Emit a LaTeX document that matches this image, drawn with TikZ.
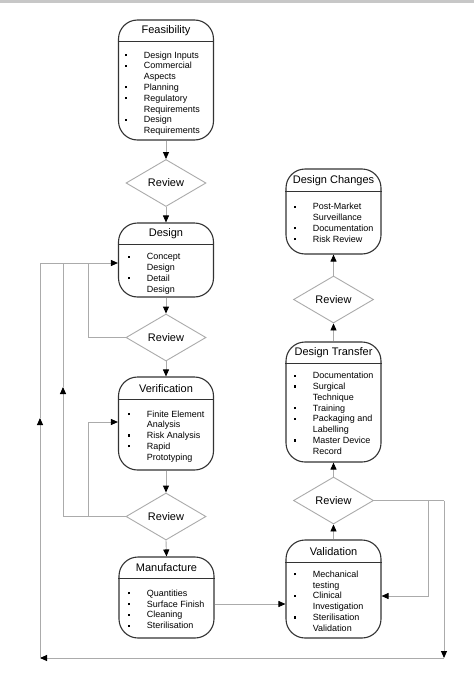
\documentclass[tikz,border=0pt]{standalone}
\usepackage{fontspec}
\setmainfont{Liberation Sans}
\usetikzlibrary{shapes.geometric,arrows.meta,calc}
\definecolor{boxc}{HTML}{333333}
\definecolor{linec}{HTML}{ABABAB}
\newcommand\bu{\makebox[18.7pt][l]{\rule[2pt]{2.2pt}{2.2pt}}}
\newcommand\nb{\makebox[18.7pt]{}}
\newcommand\blist[1]{{\fontsize{9}{10.8}\selectfont\begin{tabular}[t]{@{}l@{}}#1\end{tabular}}}
\begin{document}
\begin{tikzpicture}[x=1pt,y=-1pt,
  box/.style={draw=boxc, line width=1.1pt, rounded corners=19pt, minimum width=95pt, inner sep=0pt},
  rev/.style={diamond, draw=linec, line width=0.9pt, minimum width=80pt, minimum height=47pt, inner sep=0pt, aspect=1.7, font=\fontsize{11}{13}\selectfont},
  ttl/.style={font=\fontsize{11}{13}\selectfont, inner sep=0pt},
  body/.style={anchor=base west, inner sep=0pt},
  line/.style={draw=linec, line width=0.9pt},
  conn/.style={line, -{Triangle[length=7pt,width=6pt,color=black]}},
  hdr/.style={draw=boxc, line width=1.1pt},
]
\useasboundingbox (0,0) rectangle (474,680);
\fill[white] (0,0) rectangle (474,680);
\fill[black!22] (0,0) rectangle (474,2.5);

% boxes
\node[box, minimum height=120pt] (feas) at (166,80) {};
\node[box, minimum height=74pt] (design) at (166,260) {};
\node[box, minimum height=93pt] (verif) at (166,423.5) {};
\node[box, minimum height=81pt] (manuf) at (166.5,597.5) {};
\node[box, minimum height=98pt] (valid) at (333.5,589) {};
\node[box, minimum height=120pt] (dtrans) at (333.5,402) {};
\node[box, minimum height=85pt] (dchg) at (333.5,211.5) {};

% header dividers
\foreach \n/\d in {feas/22,design/22,verif/23,manuf/22,valid/23,dtrans/22,dchg/23}{
  \draw[hdr] ($(\n.north west)+(0,\d)$) -- ($(\n.north east)+(0,\d)$);
}

% titles
\node[ttl] (feasT) at (166,31) {Feasibility};
\node[ttl] (designT) at (166,234) {Design};
\node[ttl] (verifT) at (166,388.5) {Verification};
\node[ttl] (manufT) at (166.5,568) {Manufacture};
\node[ttl] (validT) at (333.5,551.5) {Validation};
\node[ttl] (dtransT) at (333.5,353) {Design Transfer};
\node[ttl] (dchgT) at (333.5,180.5) {Design Changes};

% bodies
\node[body] (feasB) at (125,58) {\blist{\bu Design Inputs\\ \bu Commercial\\ \nb Aspects\\ \bu Planning\\ \bu Regulatory\\ \nb Requirements\\ \bu Design\\ \nb Requirements}};
\node[body] (designB) at (128,259.7) {\blist{\bu Concept\\ \nb Design\\ \bu Detail\\ \nb Design}};
\node[body] (verifB) at (128,417) {\blist{\bu Finite Element\\ \nb Analysis\\ \bu Risk Analysis\\ \bu Rapid\\ \nb Prototyping}};
\node[body] (manufB) at (128,596.3) {\blist{\bu Quantities\\ \bu Surface Finish\\ \bu Cleaning\\ \bu Sterilisation}};
\node[body] (validB) at (294,577.3) {\blist{\bu Mechanical\\ \nb testing\\ \bu Clinical\\ \nb Investigation\\ \bu Sterilisation\\ \nb Validation}};
\node[body] (dtransB) at (294,378.7) {\blist{\bu Documentation\\ \bu Surgical\\ \nb Technique\\ \bu Training\\ \bu Packaging and\\ \nb Labelling\\ \bu Master Device\\ \nb Record}};
\node[body] (dchgB) at (294,209.7) {\blist{\bu Post-Market\\ \nb Surveillance\\ \bu Documentation\\ \bu Risk Review}};

% reviews
\node[rev] (r1) at (166,183) {Review};
\node[rev] (r2) at (166,337.5) {Review};
\node[rev] (r3) at (166,516.5) {Review};
\node[rev] (r4) at (333.5,500.5) {Review};
\node[rev] (r5) at (333.5,299.5) {Review};

% bend coordinates
\coordinate (rb) at (444,658);
\coordinate (lb) at (40,658);
\coordinate (lm) at (40,418);
\coordinate (lt) at (40,263);
\coordinate (rv) at (428,596);
\coordinate (l2) at (88,263);
\coordinate (l3) at (63,387);
\coordinate (vin) at (88,422);
\coordinate (m2v) at (250,604);

% main flow
\draw[conn] (feas.south) -- (r1.north);
\draw[conn] (r1.south) -- (design.north);
\draw[conn] (design.south) -- (r2.north);
\draw[conn] (r2.south) -- (verif.north);
\draw[conn] (verif.south) -- (r3.north);
\draw[conn] (r3.south) -- (manuf.north);
\draw[conn] (manuf.east |- m2v) -- (valid.west |- m2v);
\draw[conn] (valid.north) -- (r4.south);
\draw[conn] (r4.north) -- (dtrans.south);
\draw[conn] (dtrans.north) -- (r5.south);
\draw[conn] (r5.north) -- (dchg.south);

% feedback loops
\draw[line] (r4.east) -- (r4.east -| rb);
\draw[conn] (r4.east -| rb) -- (rb);
\draw[conn] (rb) -- (lb);
\draw[conn] (lb) -- (lm);
\draw[conn] (lm) -- (lt) -- (design.west |- lt);
\draw[conn] (r4.east -| rv) -- (rv) -- (valid.east |- rv);
\draw[line] (r2.west) -- (r2.west -| l2) -- (l2);
\draw[conn] (r3.west) -- (r3.west -| l3) -- (l3);
\draw[line] (l3) -- (l3 |- lt);
\draw[conn] (r3.west -| vin) -- (vin) -- (verif.west |- vin);
\end{tikzpicture}
\end{document}
